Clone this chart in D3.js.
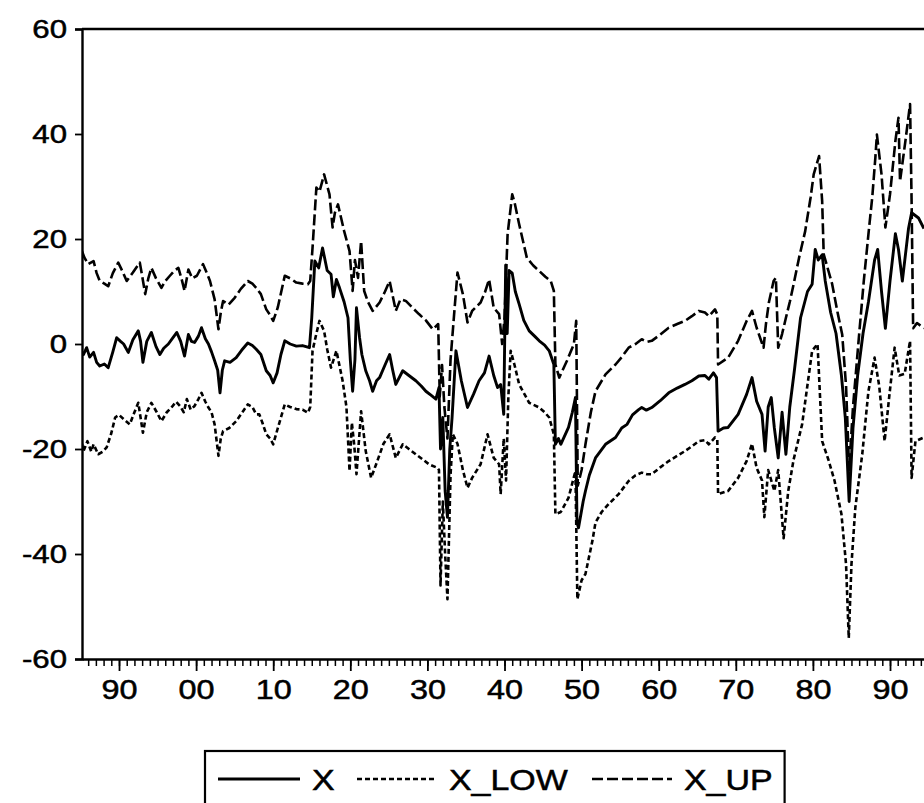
<!DOCTYPE html>
<html>
<head>
<meta charset="utf-8">
<script src="https://cdn.jsdelivr.net/npm/d3@7"></script>
<style>
  body { margin: 0; background: #fff; }
  svg { display: block; font-family: "Liberation Sans", Arial, Helvetica, sans-serif; }
</style>
</head>
<body>
<div id="chart"></div>
<script>
// series: [year, value]
const seriesX = [
  [1885.2,-1.5],[1885.4,-2.0],[1885.8,-0.7],[1886.2,-2.5],[1886.7,-1.6],[1887.1,-3.5],[1887.5,-4.2],[1888.1,-3.8],
  [1888.6,-4.5],[1889.2,-1.5],[1889.7,1.2],[1890.2,0.5],[1890.6,0],[1891.2,-1.6],[1891.8,0.8],[1892.5,2.5],
  [1892.8,0.5],[1893.1,-3.5],[1893.6,0.5],[1894.2,2.2],[1894.8,-0.5],[1895.3,-2.0],[1895.8,-0.8],[1896.4,0],
  [1897.0,1.2],[1897.5,2.2],[1898.0,0.5],[1898.5,-2.3],[1899.0,1.8],[1899.4,0.5],[1899.8,0.3],[1900.3,1.5],
  [1900.7,3.1],[1901.2,1.0],[1901.6,0],[1902.0,-1.5],[1902.4,-3.2],[1902.8,-5.0],[1903.1,-9.3],[1903.4,-5.0],
  [1903.7,-3.2],[1904.4,-3.5],[1905.2,-2.6],[1905.9,-1.2],[1906.7,0.2],[1907.3,-0.3],[1907.8,-1.0],[1908.4,-2.0],
  [1909.1,-5.1],[1909.6,-6.0],[1910.0,-7.4],[1910.5,-5.5],[1911.0,-2.0],[1911.5,0.6],[1912.2,0.0],[1913.0,-0.4],
  [1913.8,-0.3],[1914.7,-0.7],[1915.0,5.0],[1915.4,15.8],[1915.9,14.5],[1916.4,18.3],[1917.0,14.0],[1917.5,13.3],
  [1917.8,9.0],[1918.2,12.3],[1918.6,10.7],[1919.2,8.0],[1919.7,5.0],[1920.0,-3.0],[1920.3,-9.0],[1920.6,-3.0],
  [1920.8,6.9],[1921.2,1.2],[1921.5,-2.0],[1922.0,-5.1],[1922.5,-7.0],[1922.9,-9.0],[1923.4,-7.0],[1923.8,-6.4],
  [1924.5,-4.0],[1925.1,-2.0],[1925.5,-5.0],[1925.9,-7.7],[1926.8,-5.1],[1927.6,-6.0],[1928.5,-7.0],[1929.2,-8.0],
  [1929.8,-9.0],[1930.5,-9.8],[1931.1,-10.5],[1931.5,-8.3],[1931.7,-20],[1932.0,-14],[1932.3,-28],[1932.6,-33],
  [1932.9,-20],[1933.2,-14],[1933.7,-1.3],[1934.4,-7],[1935.2,-12.1],[1936.0,-9.5],[1936.7,-7.0],[1937.4,-5.5],
  [1938.0,-2.3],[1938.6,-6.0],[1939.1,-8.3],[1939.5,-7.7],[1939.9,-13.4],[1940.15,15],[1940.35,2],[1940.6,14],
  [1941.0,13.5],[1941.4,10],[1941.9,7.6],[1942.5,4.5],[1943.2,2.5],[1943.9,1.5],[1944.5,0.6],[1945.2,-0.2],
  [1945.8,-1.3],[1946.4,-3.9],[1946.6,-19.1],[1947.0,-18],[1947.3,-19.1],[1948.3,-15.9],[1948.8,-13],[1949.2,-10.2],
  [1949.4,-34],[1949.6,-35],[1950.2,-30],[1950.5,-28],[1951.0,-25],[1951.8,-21.7],[1953.1,-19.1],[1954.4,-17.8],
  [1955.2,-16],[1955.9,-15.3],[1956.6,-13.5],[1957.4,-12.5],[1957.8,-12.1],[1958.4,-12.6],[1959.1,-12.1],[1960.2,-10.8],
  [1961.3,-9.3],[1962.4,-8.4],[1963.4,-7.7],[1964.3,-7.0],[1965.2,-6.1],[1966.0,-6.0],[1966.5,-6.7],[1967.1,-5.5],
  [1967.5,-6.4],[1967.7,-16.6],[1968.4,-16.0],[1969.0,-15.9],[1970.3,-13.4],[1971.4,-9.6],[1972.1,-6.4],[1972.7,-10.9],
  [1973.4,-13.4],[1973.8,-20.4],[1974.2,-12],[1974.6,-10.2],[1975.0,-16],[1975.5,-21.7],[1976.0,-13],[1976.5,-21],
  [1977.0,-12],[1977.6,-5],[1978.4,5],[1979.3,10],[1979.9,11.4],[1980.3,18],[1980.7,16],[1981.2,17],
  [1981.6,12],[1982.3,6],[1983.0,2],[1983.7,-6],[1984.2,-14],[1984.7,-30],[1985.2,-16],[1985.8,-6],
  [1986.5,2],[1987.2,8],[1988.0,16],[1988.4,18],[1988.9,10],[1989.4,3],[1990.0,12],[1990.7,21],
  [1991.1,18],[1991.6,12],[1992.4,22],[1992.8,25],[1993.7,24],[1994.4,22]
];

const seriesLow = [
  [1885.2,-19],[1885.4,-20.4],[1885.9,-18.5],[1886.4,-20.5],[1886.7,-19.1],[1887.3,-21],[1887.9,-20.5],[1888.4,-19.7],
  [1889.0,-17],[1889.5,-14],[1890.0,-13.5],[1890.6,-14.3],[1891.4,-15.3],[1892.0,-13],[1892.5,-11.2],[1893.1,-16.9],
  [1893.6,-13],[1894.2,-11.2],[1894.9,-13],[1895.5,-14.7],[1896.2,-13],[1896.8,-12.1],[1897.4,-11],[1897.9,-11.8],
  [1898.4,-13],[1898.8,-10.5],[1899.3,-12.5],[1899.8,-11.8],[1900.3,-10.5],[1900.7,-9.3],[1901.2,-11],[1901.6,-12.1],
  [1902.0,-13],[1902.4,-15.3],[1902.9,-21.3],[1903.2,-18],[1903.5,-16.6],[1904.3,-16],[1905.2,-14.7],[1906.0,-13],
  [1906.7,-11.5],[1907.3,-12],[1907.8,-13.4],[1908.2,-13.4],[1908.6,-15],[1909.1,-17.2],[1909.6,-18],[1910.0,-19.1],
  [1910.6,-16],[1911.5,-11.5],[1912.2,-12],[1913.0,-12.4],[1913.8,-12.5],[1914.5,-13.1],[1914.8,-12],[1915.1,-1.3],
  [1915.6,2],[1916.0,4.4],[1916.6,2.5],[1917.0,-1],[1917.5,-4.5],[1918.2,-1.3],[1919.0,-7],[1919.5,-12],
  [1919.9,-24.2],[1920.2,-15],[1920.5,-19.1],[1920.8,-24.8],[1921.4,-12.8],[1922.0,-20.4],[1922.7,-25.5],[1923.5,-22.3],
  [1924.3,-19],[1925.1,-17.2],[1925.9,-21.7],[1926.8,-19.1],[1927.6,-20],[1928.5,-21],[1929.4,-22],[1930.2,-22.9],
  [1931.3,-23.6],[1931.5,-24],[1931.7,-46],[1932.0,-30],[1932.3,-40],[1932.6,-48.6],[1933.0,-25],[1933.3,-17.2],
  [1933.9,-19],[1934.6,-24],[1935.2,-27.4],[1935.8,-25.5],[1936.9,-22.9],[1937.8,-17.2],[1938.6,-21.7],[1939.3,-22.9],
  [1939.5,-28.6],[1939.9,-18],[1940.2,-26],[1940.5,-10],[1940.8,-1.3],[1941.3,-4],[1941.9,-7.7],[1943.2,-11.2],
  [1944.5,-12.1],[1945.2,-13],[1945.8,-14],[1946.4,-17.2],[1946.6,-32.4],[1947.3,-32],[1948.3,-29.3],[1949.2,-24.2],
  [1949.45,-48.6],[1950.0,-45],[1950.5,-43.8],[1951.4,-37.5],[1951.8,-34],[1952.6,-32],[1953.5,-30.5],[1954.8,-28.6],
  [1956.1,-26.1],[1957.0,-25],[1957.8,-24.5],[1958.5,-24.8],[1959.1,-24.8],[1960.2,-23.5],[1961.3,-22.3],[1962.4,-21.3],
  [1963.4,-20.4],[1964.3,-19.5],[1965.2,-18.5],[1966.0,-18.3],[1966.5,-19.1],[1967.3,-17.8],[1967.6,-18.2],[1967.7,-28.6],
  [1969.0,-28],[1970.3,-25.5],[1971.4,-22.3],[1972.1,-19],[1972.7,-23.6],[1973.4,-26],[1973.7,-33],[1974.2,-24],
  [1974.6,-26],[1975.0,-28],[1975.5,-24],[1976.2,-37],[1976.8,-28],[1977.5,-22],[1978.6,-15.3],[1979.9,-1.3],
  [1980.6,0],[1981.2,-18.5],[1982.0,-22],[1982.8,-26],[1983.7,-32.4],[1984.3,-42],[1984.65,-56],[1985.0,-42],
  [1985.5,-31.2],[1986.4,-21],[1987.2,-9],[1988.0,-2.6],[1988.6,-8],[1989.3,-18.5],[1989.9,-10],[1990.6,-0.7],
  [1991.2,-6],[1991.9,-5.7],[1992.6,0.6],[1992.8,-25.5],[1993.3,-18.5],[1994.4,-17.8]
];

const seriesUp = [
  [1885.2,17.7],[1885.5,16.5],[1886.0,15.2],[1886.7,15.8],[1887.1,13.5],[1887.5,12],[1888.1,11.5],[1888.6,11],
  [1889.2,13.5],[1889.9,15.5],[1890.4,14],[1891.0,12],[1891.8,13.6],[1892.7,15.5],[1893.0,13],[1893.4,9.5],
  [1893.8,12.5],[1894.2,14.5],[1894.8,12.5],[1895.5,10.7],[1896.0,12],[1896.6,13],[1897.2,14],[1897.7,14.5],
  [1898.1,12.5],[1898.5,10.1],[1899.0,14.2],[1899.5,12.5],[1900.1,13],[1900.9,15.2],[1901.4,13.5],[1901.8,12],
  [1902.4,8.5],[1902.9,2.8],[1903.2,6],[1903.5,8.2],[1904.2,7.5],[1905.0,8.8],[1905.8,10.5],[1906.7,12],
  [1907.3,11.5],[1907.8,10.7],[1908.4,9.5],[1909.1,6.6],[1909.6,5.5],[1910.0,4.4],[1910.6,7],[1911.5,13],
  [1912.2,12.5],[1913.0,11.7],[1913.8,11.5],[1914.5,11.4],[1914.8,12],[1915.1,18.3],[1915.6,29.8],[1916.0,29],
  [1916.6,32.3],[1917.3,28.5],[1917.7,22.2],[1918.0,25],[1918.4,26.6],[1919.2,21.5],[1919.9,17.7],[1920.3,10.1],
  [1920.6,16],[1921.0,12.6],[1921.4,19.6],[1921.8,10.1],[1922.3,8],[1922.9,6.3],[1923.8,7.9],[1924.5,10],
  [1925.1,12],[1925.9,6.3],[1926.5,8.5],[1927.2,8.2],[1928.0,7],[1928.9,5.7],[1929.8,4.5],[1930.7,2.8],
  [1931.4,3.8],[1931.6,-10],[1931.9,-4],[1932.2,-12],[1932.6,-18],[1933.0,-3],[1933.5,6.3],[1933.9,13.6],
  [1934.6,9.5],[1935.2,4.1],[1935.8,6.3],[1936.9,7.9],[1937.5,10],[1938.0,12.3],[1938.6,6.9],[1939.3,5.7],
  [1939.7,0],[1940.0,5],[1940.4,20.9],[1941.0,28.5],[1941.3,27],[1941.9,22.8],[1942.9,16.4],[1943.7,15],
  [1944.5,13.9],[1945.3,12.8],[1946.0,12],[1946.4,10.1],[1946.6,-3.9],[1947.1,-6.4],[1948.1,-3.2],[1949.0,0],
  [1949.3,4.4],[1949.5,-27],[1950.0,-24],[1950.5,-19.1],[1951.2,-13],[1951.8,-9],[1953.1,-5.8],[1954.4,-3.9],
  [1955.2,-2.5],[1956.1,-0.7],[1957.0,0],[1957.8,0.9],[1958.5,0.4],[1959.1,0.6],[1960.2,1.8],[1961.3,3.1],
  [1962.4,3.8],[1963.4,4.4],[1964.3,5.3],[1965.2,6.3],[1966.0,6.0],[1966.5,5.3],[1967.3,6.6],[1967.6,5.6],
  [1967.7,-3.9],[1969.0,-2.6],[1970.3,0.6],[1971.4,4.4],[1972.1,6.3],[1972.7,3.1],[1973.6,-0.7],[1973.9,3.7],
  [1974.3,8],[1974.9,12],[1975.2,12.6],[1975.5,-0.7],[1976.0,1.9],[1976.5,5],[1977.0,8],[1977.5,11.4],
  [1978.2,16.4],[1979.0,21.5],[1979.7,27.9],[1980.1,32.3],[1980.8,35.8],[1981.2,27.2],[1981.4,17.1],[1982.5,11.4],
  [1983.2,6],[1983.8,1.8],[1984.3,-8],[1984.7,-24],[1985.2,-12],[1986.0,1.9],[1986.6,12],[1987.2,20.9],
  [1987.7,28],[1988.1,35.5],[1988.3,39.9],[1988.9,32.3],[1989.4,22.2],[1990.0,28.5],[1990.7,38.7],[1991.1,43.1],
  [1991.3,31],[1992.0,38.7],[1992.6,45.7],[1992.8,27.2],[1993.0,3],[1993.5,4],[1994.4,3]
];

const seriesNames = ["X", "X_LOW", "X_UP"];
const yTicks = [-60, -40, -20, 0, 20, 40, 60];
const xDecades = [1890, 1900, 1910, 1920, 1930, 1940, 1950, 1960, 1970, 1980, 1990];
const xDomain = [1885.2, 1996];
const yDomain = [-60, 60];

class LineChart {
    constructor(_config) {
        this.config = {
            parentElement: _config.parentElement,
            containerWidth: _config.containerWidth || 924,
            containerHeight: _config.containerHeight || 803,
            margin: _config.margin || {top: 29, right: 0, bottom: 144, left: 82}
        };
        this.initVis();
    }

    initVis() {
        let vis = this;
        vis.height = vis.config.containerHeight - vis.config.margin.top - vis.config.margin.bottom;
        // 7.71 px per year; the plot runs past the right edge of the picture
        vis.width = (xDomain[1] - xDomain[0]) * 7.71;
        vis.stretch = 1.2; // the scanned lettering is wider than the font

        vis.svg = d3.select(vis.config.parentElement)
            .append('svg')
            .attr('width', vis.config.containerWidth)
            .attr('height', vis.config.containerHeight);

        vis.chart = vis.svg.append('g')
            .attr('transform', `translate(${vis.config.margin.left},${vis.config.margin.top})`);

        vis.xScale = d3.scaleLinear().domain(xDomain).range([0, vis.width]);
        vis.yScale = d3.scaleLinear().domain(yDomain).range([vis.height, 0]);

        vis.styles = {
            "X": {dash: null, width: 2.9},
            "X_LOW": {dash: "5,3", width: 2.6},
            "X_UP": {dash: "11,4", width: 2.6}
        };
        vis.renderVis();
    }

    stretchText(sel, size) {
        let vis = this;
        sel.each(function() {
            const t = d3.select(this);
            const x = +t.attr('x') || 0;
            t.attr('x', 0)
                .attr('transform', `translate(${x},0) scale(${vis.stretch},1)`)
                .attr('font-size', size)
                .attr('fill', 'black')
                .attr('stroke', 'black')
                .attr('stroke-width', 0.5)
                .attr('font-family', '"Liberation Sans", Arial, sans-serif');
        });
    }

    renderVis() {
        let vis = this;

        vis.chart.append('defs').append('clipPath').attr('id', 'plot-clip')
            .append('rect').attr('width', vis.width).attr('height', vis.height);

        const line = d3.line()
            .x(d => vis.xScale(d[0]))
            .y(d => vis.yScale(d[1]));

        const lines = [
            {name: "X_LOW", data: seriesLow},
            {name: "X_UP", data: seriesUp},
            {name: "X", data: seriesX}
        ];

        vis.chart.append('g').attr('clip-path', 'url(#plot-clip)')
            .selectAll('path')
            .data(lines)
            .join('path')
            .attr('d', d => line(d.data))
            .attr('fill', 'none')
            .attr('stroke', 'black')
            .attr('stroke-width', d => vis.styles[d.name].width)
            .attr('stroke-dasharray', d => vis.styles[d.name].dash)
            .attr('stroke-linejoin', 'round');

        // top border of the frame
        vis.chart.append('line')
            .attr('x1', 0).attr('x2', vis.width)
            .attr('y1', 0).attr('y2', 0)
            .attr('stroke', 'black').attr('stroke-width', 2.4);

        // y axis
        const yAxis = d3.axisLeft(vis.yScale)
            .tickValues(yTicks)
            .tickFormat(d => String(d))
            .tickSize(7)
            .tickPadding(8);
        const yg = vis.chart.append('g').call(yAxis);
        yg.select('.domain').attr('stroke-width', 2.4);
        yg.selectAll('.tick line').attr('stroke-width', 1.8);
        vis.stretchText(yg.selectAll('text'), 26);

        // x axis: yearly minor ticks, decade labels
        const xMinor = d3.axisBottom(vis.xScale)
            .tickValues(d3.range(1886, 1996))
            .tickFormat('')
            .tickSize(7)
            .tickSizeOuter(0);
        const xgMinor = vis.chart.append('g')
            .attr('transform', `translate(0,${vis.height})`)
            .call(xMinor);
        xgMinor.select('.domain').attr('stroke-width', 2.4);
        xgMinor.selectAll('.tick line').attr('stroke-width', 1.5);

        const xMajor = d3.axisBottom(vis.xScale)
            .tickValues(xDecades)
            .tickFormat(d => String(d % 100).padStart(2, '0'))
            .tickSize(12)
            .tickPadding(9)
            .tickSizeOuter(0);
        const xgMajor = vis.chart.append('g')
            .attr('transform', `translate(0,${vis.height})`)
            .call(xMajor);
        xgMajor.select('.domain').remove();
        xgMajor.selectAll('.tick line').attr('stroke-width', 1.8);
        vis.stretchText(xgMajor.selectAll('text'), 27);

        vis.renderLegend();
    }

    renderLegend() {
        let vis = this;
        const fontSize = 29;
        const lg = vis.svg.append('g');
        const box = lg.append('rect')
            .attr('fill', 'white')
            .attr('stroke', 'black').attr('stroke-width', 2.2);

        const items = [
            {name: seriesNames[0], x: 218, len: 82},
            {name: seriesNames[1], x: 357, len: 80},
            {name: seriesNames[2], x: 592, len: 80}
        ];
        const ly = 779;
        lg.selectAll('.legend-line')
            .data(items)
            .join('line')
            .attr('class', 'legend-line')
            .attr('x1', d => d.x).attr('x2', d => d.x + d.len)
            .attr('y1', ly).attr('y2', ly)
            .attr('stroke', 'black')
            .attr('stroke-width', d => vis.styles[d.name].width)
            .attr('stroke-dasharray', d => vis.styles[d.name].dash);

        const texts = lg.selectAll('.legend-text')
            .data(items)
            .join('text')
            .attr('class', 'legend-text')
            .attr('transform', d => `translate(${d.x + d.len + 12},${ly + 11}) scale(1.17,1)`)
            .attr('font-size', fontSize)
            .attr('fill', 'black')
            .attr('stroke', 'black')
            .attr('stroke-width', 0.5)
            .text(d => d.name);

        const last = texts.nodes()[texts.size() - 1];
        const right = items[2].x + items[2].len + 12 + last.getComputedTextLength() * 1.17 + 12;
        box.attr('x', 205).attr('y', 751)
            .attr('width', right - 205).attr('height', 60);
    }
}

new LineChart({parentElement: '#chart'});
</script>
</body>
</html>
